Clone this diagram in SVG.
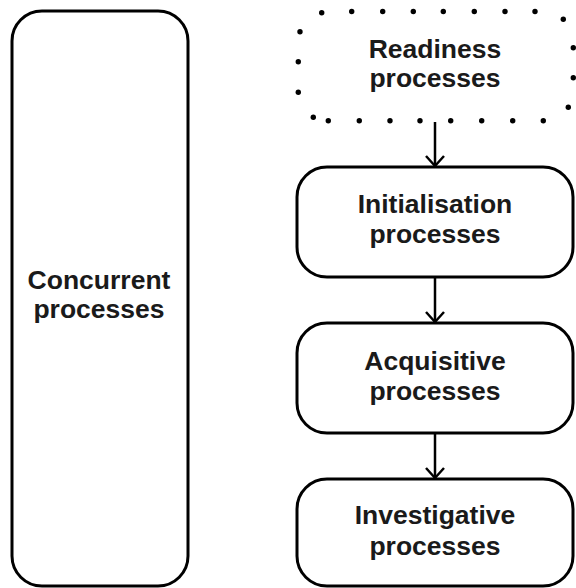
<svg xmlns="http://www.w3.org/2000/svg" width="576" height="588" viewBox="0 0 576 588">
<style>
.box{fill:#fff;stroke:#000;stroke-width:3}
.lbl{font-family:"Liberation Sans",Arial,sans-serif;font-weight:bold;font-size:26.5px;fill:#1a1a1a;text-anchor:middle}
.dot{fill:#000}
.conn{stroke:#000;stroke-width:2.5;fill:none}
</style>
<defs>
<marker id="arr" markerUnits="userSpaceOnUse" markerWidth="24" markerHeight="24" refX="0" refY="0" orient="auto" viewBox="-12 -12 24 24" overflow="visible">
<path d="M-10,-9 L0,0 L-10,9" fill="none" stroke="#000" stroke-width="2.5"/>
</marker>
</defs>
<rect width="576" height="588" fill="#fff"/>
<g id="concurrent">
<rect class="box" x="12" y="11" width="176" height="575" rx="30"/>
<text class="lbl" x="99" y="289">Concurrent</text>
<text class="lbl" x="99" y="318">processes</text>
</g>
<g id="readiness">
<circle class="dot" cx="321.7" cy="12.7" r="2.7"/>
<circle class="dot" cx="351.7" cy="11.5" r="2.7"/>
<circle class="dot" cx="382.7" cy="11.5" r="2.7"/>
<circle class="dot" cx="413.3" cy="11.5" r="2.7"/>
<circle class="dot" cx="443.3" cy="11.5" r="2.7"/>
<circle class="dot" cx="474.3" cy="11.5" r="2.7"/>
<circle class="dot" cx="505" cy="11.5" r="2.7"/>
<circle class="dot" cx="535" cy="11.5" r="2.7"/>
<circle class="dot" cx="563.3" cy="19.3" r="2.7"/>
<circle class="dot" cx="573.3" cy="47.7" r="2.7"/>
<circle class="dot" cx="573.3" cy="77.7" r="2.7"/>
<circle class="dot" cx="568.3" cy="107.3" r="2.7"/>
<circle class="dot" cx="300" cy="31.7" r="2.7"/>
<circle class="dot" cx="298.3" cy="61.7" r="2.7"/>
<circle class="dot" cx="298.3" cy="92.3" r="2.7"/>
<circle class="dot" cx="313.3" cy="117.3" r="2.7"/>
<circle class="dot" cx="328.3" cy="120.7" r="2.7"/>
<circle class="dot" cx="359.3" cy="120.7" r="2.7"/>
<circle class="dot" cx="390" cy="120.7" r="2.7"/>
<circle class="dot" cx="420" cy="120.7" r="2.7"/>
<circle class="dot" cx="450.7" cy="120.7" r="2.7"/>
<circle class="dot" cx="481.7" cy="120.7" r="2.7"/>
<circle class="dot" cx="512.7" cy="120.7" r="2.7"/>
<circle class="dot" cx="543.3" cy="120.7" r="2.7"/>
<text class="lbl" x="435" y="58">Readiness</text>
<text class="lbl" x="435" y="87">processes</text>
</g>
<g id="initialisation">
<rect class="box" x="297" y="167" width="276" height="110" rx="30"/>
<text class="lbl" x="435" y="213">Initialisation</text>
<text class="lbl" x="435" y="243">processes</text>
</g>
<g id="acquisitive">
<rect class="box" x="297" y="323" width="276" height="110" rx="30"/>
<text class="lbl" x="435" y="370">Acquisitive</text>
<text class="lbl" x="435" y="400">processes</text>
</g>
<g id="investigative">
<rect class="box" x="297" y="479" width="276" height="107" rx="30"/>
<text class="lbl" x="435" y="524">Investigative</text>
<text class="lbl" x="435" y="555">processes</text>
</g>
<g id="connectors">
<line class="conn" x1="435" y1="122" x2="435" y2="166" marker-end="url(#arr)"/>
<line class="conn" x1="435" y1="277" x2="435" y2="322" marker-end="url(#arr)"/>
<line class="conn" x1="435" y1="433" x2="435" y2="478" marker-end="url(#arr)"/>
</g>
</svg>
